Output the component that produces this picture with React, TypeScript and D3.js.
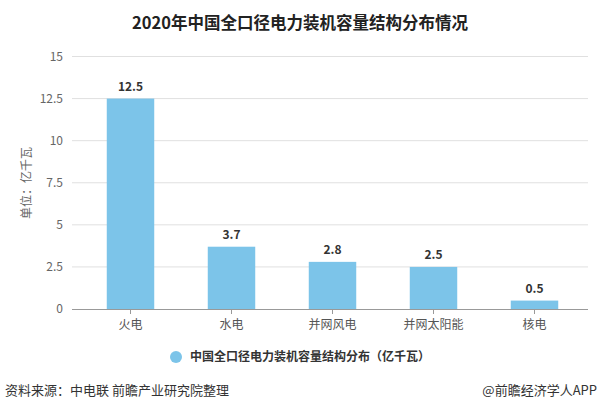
import React from "react";
import * as d3 from "d3";

const categories = ["火电", "水电", "并网风电", "并网太阳能", "核电"];
const values = [12.5, 3.7, 2.8, 2.5, 0.5];
const valueLabels = ["12.5", "3.7", "2.8", "2.5", "0.5"];
const yTicks = [0, 2.5, 5, 7.5, 10, 12.5, 15];
const yTickLabels = ["0", "2.5", "5", "7.5", "10", "12.5", "15"];
const title = "2020年中国全口径电力装机容量结构分布情况";
const yTitle = "单位：亿千瓦";
const legendLabel = "中国全口径电力装机容量结构分布（亿千瓦）";
const source = "资料来源：中电联 前瞻产业研究院整理";
const credit = "@前瞻经济学人APP";

const W = 599;
const H = 411;
const font = "'Noto Sans CJK SC', 'Noto Sans', sans-serif";

export default function App() {
  const x = d3.scaleBand<string>().domain(categories).range([80, 585]).paddingInner(0.53).paddingOuter(0.265);
  const y = d3.scaleLinear().domain([0, 15]).range([309, 56.5]);
  const gridX0 = 72;
  const gridX1 = 588;
  return (
    <svg width={W} height={H} style={{ position: "absolute", left: 0, top: 0, background: "#fff" }} fontFamily={font}>
      <text x={300} y={29} textAnchor="middle" fontSize={16.5} fontWeight="bold" fill="#222">{title}</text>
      {yTicks.map((t, i) => (
        <g key={t}>
          {t !== 0 && <line x1={gridX0} x2={gridX1} y1={y(t)} y2={y(t)} stroke="#e0e0e0" strokeWidth={1} />}
          <text x={63} y={y(t) + 4} textAnchor="end" fontSize={12} fill="#666">{yTickLabels[i]}</text>
        </g>
      ))}
      <text transform={`translate(31,${183}) rotate(-90)`} textAnchor="middle" fontSize={12} fill="#666">{yTitle}</text>
      {categories.map((c, i) => (
        <g key={c}>
          <rect x={x(c)} y={y(values[i])} width={x.bandwidth()} height={y(0) - y(values[i])} fill="#7cc4e9" />
          <text x={(x(c) as number) + x.bandwidth() / 2} y={y(values[i]) - 8} textAnchor="middle" fontSize={12} fontWeight="bold" fill="#333">{valueLabels[i]}</text>
          <line x1={(x(c) as number) + x.bandwidth() / 2} x2={(x(c) as number) + x.bandwidth() / 2} y1={309} y2={314} stroke="#999" />
          <text x={(x(c) as number) + x.bandwidth() / 2} y={329} textAnchor="middle" fontSize={12} fill="#555">{c}</text>
        </g>
      ))}
      <line x1={gridX0} x2={gridX1} y1={309.5} y2={309.5} stroke="#999" strokeWidth={1} />
      <circle cx={176} cy={357} r={6} fill="#7cc4e9" />
      <text x={190} y={361} fontSize={12} fontWeight="bold" fill="#333">{legendLabel}</text>
      <text x={5} y={395} fontSize={13} fill="#333">{source}</text>
      <text x={597} y={395} textAnchor="end" fontSize={13} fill="#333">{credit}</text>
    </svg>
  );
}
